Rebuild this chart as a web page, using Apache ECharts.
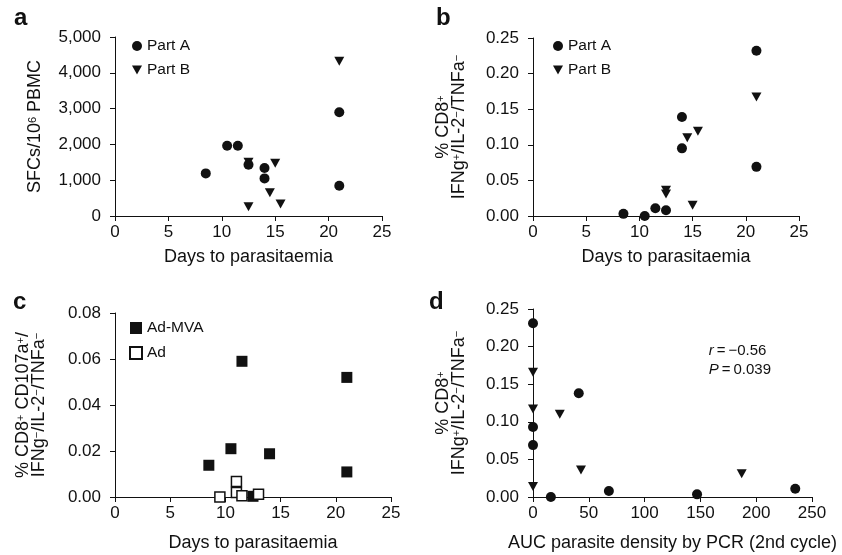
<!DOCTYPE html>
<html>
<head>
<meta charset="utf-8">
<script src="https://cdn.jsdelivr.net/npm/echarts@6/dist/echarts.min.js"></script>
<style>
html,body{margin:0;padding:0;background:#fff;}
#chart{width:842px;height:555px;}
</style>
</head>
<body>
<div id="chart"></div>
<script>
// ---- Data ----
// Panel a: SFCs/10^6 PBMC vs days to parasitaemia
var aPartADays = [8.5, 10.5, 11.5, 12.5, 14, 14, 21, 21];
var aPartASfc  = [1190, 1960, 1960, 1430, 1340, 1050, 2900, 845];
var aPartBDays = [12.5, 12.5, 14.5, 15, 15.5, 21];
var aPartBSfc  = [1500, 260, 650, 1470, 335, 4320];

// Panel b: % CD8+ IFNg+/IL-2-/TNFa- vs days to parasitaemia
var bPartADays = [8.5, 10.5, 11.5, 12.5, 14, 14, 21, 21];
var bPartAPct  = [0.003, 0.000, 0.011, 0.008, 0.139, 0.095, 0.232, 0.069];
var bPartBDays = [12.5, 12.5, 14.5, 15, 15.5, 21];
var bPartBPct  = [0.036, 0.031, 0.110, 0.015, 0.119, 0.167];

// Panel c: % CD8+ CD107a+/IFNg-/IL-2-/TNFa- vs days to parasitaemia
var cAdMvaDays = [8.5, 10.5, 11.5, 12.5, 14, 21, 21];
var cAdMvaPct  = [0.0138, 0.021, 0.059, 0.0003, 0.0188, 0.052, 0.0109];
var cAdDays    = [9.5, 11, 11, 11.5, 13];
var cAdPct     = [0.0000, 0.0067, 0.0020, 0.0005, 0.0012];

// Panel d: % CD8+ IFNg+/IL-2-/TNFa- vs AUC parasite density
var dPartAAuc = [0, 0, 0, 41, 16, 68, 147, 235];
var dPartAPct = [0.231, 0.093, 0.069, 0.138, 0.000, 0.008, 0.0035, 0.011];
var dPartBAuc = [0, 0, 0, 24, 43, 187];
var dPartBPct = [0.166, 0.117, 0.014, 0.110, 0.036, 0.031];

var panelLetters = ['a', 'b', 'c', 'd'];
var statR = '−0.56';
var statP = '0.039';

// ---- Helpers ----
function zip(xs, ys){ return xs.map(function(x,i){ return [x, ys[i]]; }); }
var FONT = '"Liberation Sans", Arial, Helvetica, sans-serif';
var DOWN_TRI = 'path://M0,0 L10,0 L5,9 Z';
var INK = '#111';
var TICK_FS = 17, NAME_FS = 18, LEG_FS = 15.5;

function xAxisCfg(gi, max, interval, name, gap){
  return {
    type:'value', gridIndex:gi, min:0, max:max, interval:interval,
    name:name, nameLocation:'middle', nameGap:gap,
    nameTextStyle:{fontFamily:FONT, fontSize:NAME_FS, color:INK},
    axisLine:{show:true, onZero:false, lineStyle:{color:INK, width:1}},
    axisTick:{show:true, inside:false, length:5, lineStyle:{color:INK, width:1}},
    axisLabel:{fontFamily:FONT, fontSize:TICK_FS, color:INK, margin:8},
    splitLine:{show:false}
  };
}
function yAxisCfg(gi, max, interval, name, gap, fmt){
  return {
    type:'value', gridIndex:gi, min:0, max:max, interval:interval,
    name:name, nameLocation:'middle', nameGap:gap, nameRotate:90,
    nameTextStyle:{fontFamily:FONT, fontSize:NAME_FS, color:INK, lineHeight:16,
      rich:{
        n:{fontFamily:FONT, fontSize:NAME_FS, color:INK, lineHeight:16},
        s:{fontFamily:FONT, fontSize:11, color:INK, verticalAlign:'top', lineHeight:16}
      }},
    axisLine:{show:true, onZero:false, lineStyle:{color:INK, width:1}},
    axisTick:{show:true, inside:false, length:5, lineStyle:{color:INK, width:1}},
    axisLabel:{fontFamily:FONT, fontSize:TICK_FS, color:INK, margin:14, formatter:fmt},
    splitLine:{show:false}
  };
}
function fmtComma(v){ return v.toLocaleString('en-US'); }
function fmt2(v){ return v.toFixed(2); }

function circleSeries(name, xi, data){
  return {type:'scatter', name:name, xAxisIndex:xi, yAxisIndex:xi, data:data,
    symbol:'circle', symbolSize:10, itemStyle:{color:INK, opacity:1}, z:3};
}
function triSeries(name, xi, data){
  return {type:'scatter', name:name, xAxisIndex:xi, yAxisIndex:xi, data:data,
    symbol:DOWN_TRI, symbolSize:[10,9], itemStyle:{color:INK, opacity:1}, z:2};
}
function legendCfg(left, top, names, size, gap){
  return {left:left, top:top, orient:'vertical', itemGap:gap, itemWidth:size, itemHeight:size,
    data:names, textStyle:{fontFamily:FONT, fontSize:LEG_FS, color:INK}, selectedMode:false};
}

var chart = echarts.init(document.getElementById('chart'), null, {renderer:'canvas'});
var option = {
  backgroundColor:'#fff',
  animation:false,
  textStyle:{fontFamily:FONT},
  grid:[
    {left:115, right:460, top:37, bottom:339},
    {left:533, right:43, top:38, bottom:339},
    {left:115, right:451, top:313, bottom:58},
    {left:533, right:30, top:309, bottom:58}
  ],
  xAxis:[
    xAxisCfg(0, 25, 5, 'Days to parasitaemia', 32),
    xAxisCfg(1, 25, 5, 'Days to parasitaemia', 32),
    xAxisCfg(2, 25, 5, 'Days to parasitaemia', 37),
    xAxisCfg(3, 250, 50, 'AUC parasite density by PCR (2nd cycle)', 37)
  ],
  yAxis:[
    yAxisCfg(0, 5000, 1000, '{n|SFCs/10}{s|6}{n| PBMC}', 72, fmtComma),
    yAxisCfg(1, 0.25, 0.05, '{n|% CD8}{s|+}\n{n|IFNg}{s|+}{n|/IL-2}{s|−}{n|/TNFa}{s|−}', 66, fmt2),
    yAxisCfg(2, 0.08, 0.02, '{n|% CD8}{s|+}{n| CD107a}{s|+}{n|/}\n{n|IFNg}{s|−}{n|/IL-2}{s|−}{n|/TNFa}{s|−}', 68, fmt2),
    yAxisCfg(3, 0.25, 0.05, '{n|% CD8}{s|+}\n{n|IFNg}{s|+}{n|/IL-2}{s|−}{n|/TNFa}{s|−}', 66, fmt2)
  ],
  legend:[
    legendCfg(127, 33, ['Part A','Part B'], 10, 8),
    legendCfg(548, 33, ['Part A','Part B'], 10, 8),
    legendCfg(124, 315, ['Ad-MVA','Ad'], 12, 9)
  ],
  graphic:[
    {type:'text', left:14, top:6, style:{text:panelLetters[0], font:'bold 24px '+FONT, fill:INK}},
    {type:'text', left:436, top:6, style:{text:panelLetters[1], font:'bold 24px '+FONT, fill:INK}},
    {type:'text', left:13, top:290, style:{text:panelLetters[2], font:'bold 24px '+FONT, fill:INK}},
    {type:'text', left:429, top:290, style:{text:panelLetters[3], font:'bold 24px '+FONT, fill:INK}},
    {type:'text', right:71, top:343, style:{
      text:'{i|r}{n|\u2009=\u2009' + statR + '}\n{i|P}{n|\u2009=\u2009' + statP + '}',
      align:'right', fill:INK,
      rich:{i:{font:'italic 15px '+FONT, fill:INK, lineHeight:19}, n:{font:'15px '+FONT, fill:INK, lineHeight:19}}
    }}
  ],
  series:[
    triSeries('Part B', 0, zip(aPartBDays, aPartBSfc)),
    circleSeries('Part A', 0, zip(aPartADays, aPartASfc)),
    triSeries('Part B', 1, zip(bPartBDays, bPartBPct)),
    circleSeries('Part A', 1, zip(bPartADays, bPartAPct)),
    {type:'scatter', name:'Ad-MVA', xAxisIndex:2, yAxisIndex:2, data:zip(cAdMvaDays, cAdMvaPct),
      symbol:'rect', symbolSize:11, itemStyle:{color:INK, opacity:1}, z:2},
    {type:'scatter', name:'Ad', xAxisIndex:2, yAxisIndex:2, data:zip(cAdDays, cAdPct),
      symbol:'rect', symbolSize:10, itemStyle:{color:'#fff', borderColor:INK, borderWidth:1.5, opacity:1}, z:3},
    triSeries('Part B', 3, zip(dPartBAuc, dPartBPct)),
    circleSeries('Part A', 3, zip(dPartAAuc, dPartAPct))
  ]
};
chart.setOption(option);
</script>
</body>
</html>
